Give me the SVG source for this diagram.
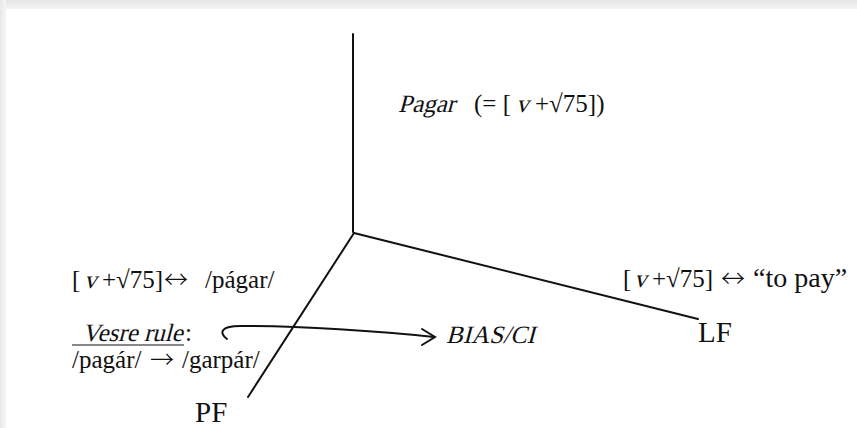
<svg xmlns="http://www.w3.org/2000/svg" width="857" height="428" viewBox="0 0 857 428">
<style>
  text { font-family: "Liberation Serif", "Times New Roman", serif; font-size: 25px; fill: #111; }
  .arr { font-family: "Noto Sans CJK JP", "DejaVu Sans", sans-serif; font-size: 24px; font-weight: 300; }
  .big { font-size: 29px; }
  .ln { stroke: #111; stroke-width: 2; fill: none; stroke-linecap: round; }
</style>
<defs>
  <linearGradient id="gt" x1="0" y1="0" x2="0" y2="1">
    <stop offset="0" stop-color="#e6e6e6"/>
    <stop offset="1" stop-color="#f3f3f3"/>
  </linearGradient>
  <linearGradient id="gl" x1="0" y1="0" x2="1" y2="0">
    <stop offset="0" stop-color="#e8e8e8"/>
    <stop offset="1" stop-color="#f6f6f6"/>
  </linearGradient>
</defs>
<rect x="0" y="0" width="857" height="428" fill="#ffffff"/>
<rect x="0" y="0" width="857" height="9" fill="url(#gt)"/>
<rect x="0" y="0" width="6" height="428" fill="url(#gl)"/>

<g id="connectors">
  <line class="ln" x1="353" y1="34" x2="353" y2="232"/>
  <line class="ln" x1="354" y1="233" x2="248" y2="397"/>
  <line class="ln" x1="354" y1="233" x2="698" y2="319"/>
  <path class="ln" d="M227,339 C218,332 222,326 240,326 C300,326 380,331 434,337"/>
  <path class="ln" d="M422,329 L435,337 L422,345"/>
</g>

<g id="root">
  <text transform="translate(398,112) skewX(-15)">Pagar</text>
  <text x="474" y="112">(= [</text>
  <text transform="translate(516,112) skewX(-15)">v</text>
  <text x="535" y="112">+√75])</text>
</g>

<g id="pf-mapping">
  <text x="72" y="288">[</text>
  <text transform="translate(84,288) skewX(-15)">v</text>
  <text x="102" y="288">+√75]</text>
  <text class="arr" x="164" y="288">↔</text>
  <text x="205" y="288">/págar/</text>
</g>

<g id="vesre">
  <text transform="translate(82,341) skewX(-15)">Vesre rule</text>
  <text x="185" y="341">:</text>
  <line x1="72" y1="345" x2="184" y2="345" stroke="#111" stroke-width="1.2"/>
  <text x="72" y="368">/pagár/</text>
  <text class="arr" x="150" y="368">→</text>
  <text x="182" y="368">/garpár/</text>
</g>

<g id="bias">
  <text transform="translate(446,343) skewX(-15)">BIAS/CI</text>
</g>

<g id="lf-mapping">
  <text x="623" y="287">[</text>
  <text transform="translate(634,287) skewX(-15)">v</text>
  <text x="652" y="287">+√75]</text>
  <text class="arr" x="721" y="287">↔</text>
  <text x="753" y="287" style="font-size:28px">“to pay”</text>
</g>

<g id="LF">
  <text class="big" x="698" y="342">LF</text>
</g>

<g id="PF">
  <text class="big" x="195" y="422">PF</text>
</g>
</svg>
